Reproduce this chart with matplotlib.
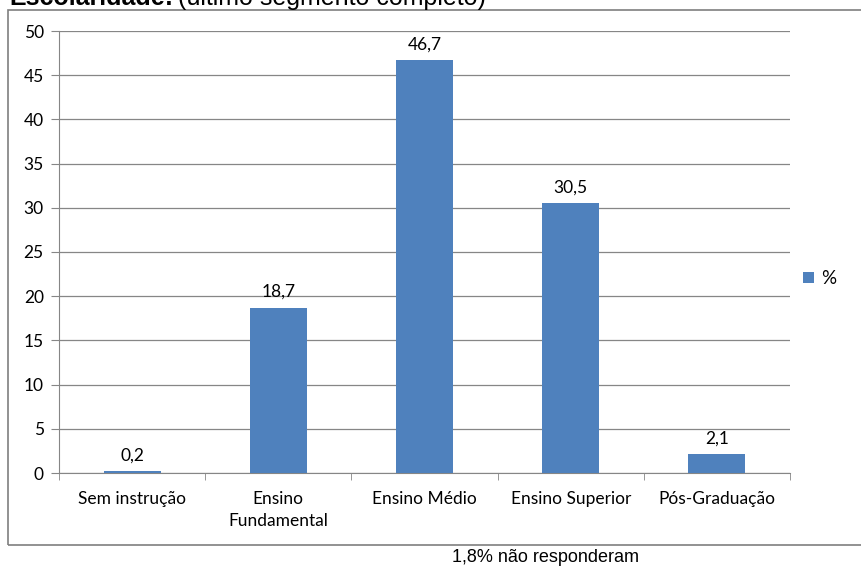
import matplotlib.pyplot as plt
from matplotlib.patches import Rectangle

categorias = ['Sem instrução', 'Ensino\nFundamental', 'Ensino Médio', 'Ensino Superior', 'Pós-Graduação']
valores = [0.2, 18.7, 46.7, 30.5, 2.1]
rotulos = ['0,2', '18,7', '46,7', '30,5', '2,1']
y_ticks = [0, 5, 10, 15, 20, 25, 30, 35, 40, 45, 50]

cor_barra = '#4f81bd'
cor_grade = '#868686'
fs = 12.5

plt.rcParams['font.family'] = ['Lato', 'DejaVu Sans']

fig = plt.figure(figsize=(8.61, 5.66), dpi=100)
ax = fig.add_axes([59 / 861, 1 - 473 / 566, (790 - 59) / 861, (473 - 31) / 566])

x = list(range(len(categorias)))
ax.bar(x, valores, width=0.39, color=cor_barra, zorder=3, label='%')
for xi, v, r in zip(x, valores, rotulos):
    ax.text(xi, v + 0.9, r, ha='center', va='bottom', fontsize=fs, color='#000000')

ax.set_xlim(-0.5, len(categorias) - 0.5)
ax.set_ylim(0, 50)
ax.set_yticks(y_ticks)
ax.set_yticklabels([str(t) for t in y_ticks], fontsize=fs)
ax.yaxis.grid(True, color=cor_grade, linewidth=0.9, zorder=0)
ax.set_axisbelow(True)

ax.set_xticks(x)
ax.set_xticklabels(categorias, fontsize=fs, linespacing=1.45)
ax.tick_params(axis='x', length=0, pad=13)
ax.set_xticks([i - 0.5 for i in range(len(categorias) + 1)], minor=True)
ax.tick_params(axis='x', which='minor', length=5, color=cor_grade)
ax.tick_params(axis='y', length=6, color=cor_grade, pad=5)

for s in ['top', 'right']:
    ax.spines[s].set_visible(False)
ax.spines['left'].set_color(cor_grade)
ax.spines['bottom'].set_color(cor_grade)

ax.legend(loc='center left', bbox_to_anchor=(0.995, 0.44), frameon=False,
          fontsize=13.5, handlelength=0.55, handleheight=0.55, handletextpad=0.4)

# moldura externa
fig.patches.append(Rectangle((8 / 861, 1 - 545 / 566), 1, (545 - 10) / 566,
                             transform=fig.transFigure, fill=False,
                             edgecolor='#7f7f7f', linewidth=1.2))

fig.text(9 / 861, 1 - 5 / 566, 'Escolaridade:', fontsize=18, fontweight='bold',
         family='Liberation Sans', va='baseline')
fig.text(178 / 861, 1 - 5 / 566, '(último segmento completo)', fontsize=18,
         family='Liberation Sans', va='baseline')
fig.text(546 / 861, 1 - 558 / 566, '1,8% não responderam', fontsize=13,
         family='Liberation Sans', ha='center', va='center')

fig.savefig('out.png', dpi=100)
